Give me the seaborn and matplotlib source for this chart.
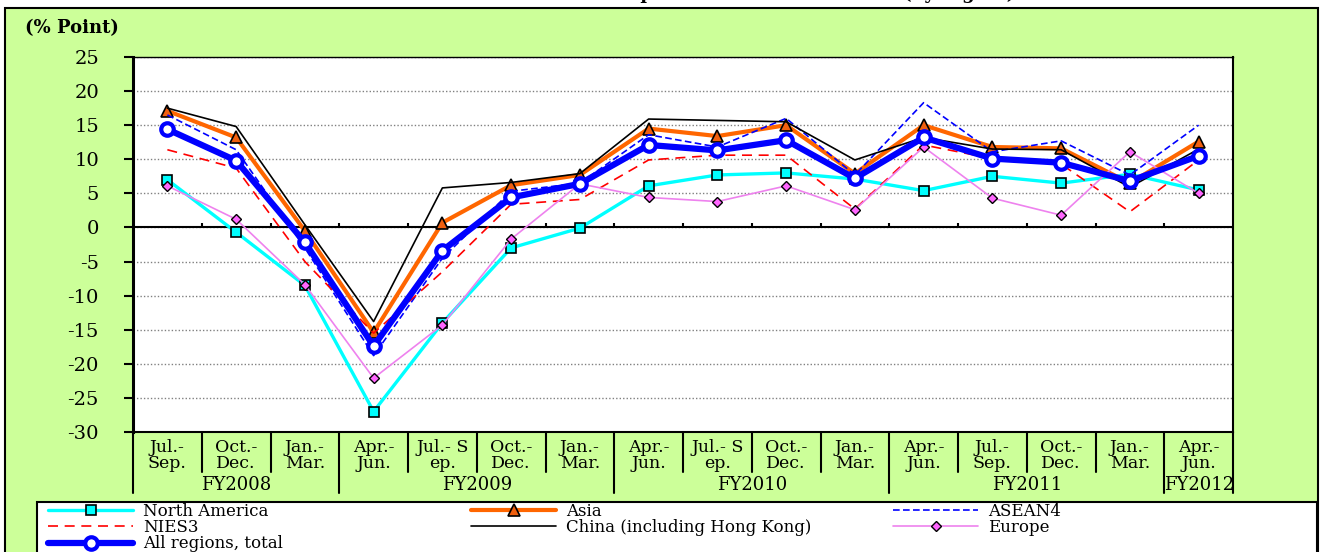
"""Export growth by region: quarterly contribution chart."""

import matplotlib

matplotlib.use("Agg")
import matplotlib.pyplot as plt
from matplotlib.patches import Rectangle
import seaborn as sns

# ---- data -----------------------------------------------------------------
quarters = ["Jul.-\nSep.", "Oct.-\nDec.", "Jan.-\nMar.", "Apr.-\nJun.",
            "Jul.- S\nep.", "Oct.-\nDec.", "Jan.-\nMar.", "Apr.-\nJun.",
            "Jul.- S\nep.", "Oct.-\nDec.", "Jan.-\nMar.", "Apr.-\nJun.",
            "Jul.-\nSep.", "Oct.-\nDec.", "Jan.-\nMar.", "Apr.-\nJun."]
fiscal_years = ["FY2008", "FY2009", "FY2010", "FY2011", "FY2012"]
fy_sizes = [3, 4, 4, 4, 1]

north_america = [7.0, -0.7, -8.5, -27.0, -14.0, -3.0, -0.1, 6.1, 7.7, 8.0, 7.1, 5.4, 7.5, 6.5, 7.8, 5.5]
asia = [17.1, 13.2, -0.5, -15.4, 0.7, 6.2, 7.7, 14.5, 13.4, 15.0, 7.9, 15.0, 11.8, 11.6, 6.5, 12.6]
asean4 = [16.5, 11.4, -3.0, -18.8, -4.5, 5.3, 6.5, 13.6, 11.8, 16.0, 7.7, 18.3, 11.1, 12.7, 7.7, 15.0]
nies3 = [11.4, 8.7, -5.0, -15.5, -6.5, 3.4, 4.1, 9.9, 10.6, 10.6, 2.7, 12.1, 10.1, 9.3, 2.3, 9.9]
china = [17.5, 14.8, 0.4, -13.8, 5.8, 6.6, 7.9, 15.9, 15.7, 15.5, 9.9, 13.2, 11.5, 11.4, 5.9, 11.5]
europe = [6.1, 1.2, -8.4, -22.1, -14.3, -1.7, 6.4, 4.4, 3.8, 6.1, 2.6, 11.8, 4.3, 1.8, 11.1, 5.0]
total = [14.4, 9.8, -2.2, -17.4, -3.4, 4.4, 6.4, 12.1, 11.3, 12.8, 7.2, 13.2, 10.1, 9.5, 6.8, 10.5]

series = [
    ("North America", north_america,
     dict(color="#00FFFF", lw=2.4, marker="s", ms=7, mfc="#00FFFF", mec="black", mew=1.2)),
    ("Asia", asia,
     dict(color="#FF6600", lw=3.0, marker="^", ms=8, mfc="#F06010", mec="black", mew=1.2)),
    ("ASEAN4", asean4, dict(color="#0000FF", lw=1.2, ls=(0, (4, 2)))),
    ("NIES3", nies3, dict(color="#FF0000", lw=1.2, ls=(0, (6, 4)))),
    ("China (including Hong Kong)", china, dict(color="black", lw=1.2)),
    ("Europe", europe,
     dict(color="#EE82EE", lw=1.2, marker="D", ms=5.5, mfc="#FF66FF", mec="black", mew=1.0)),
    ("All regions, total", total,
     dict(color="#0000FF", lw=4.5, marker="o", ms=9, mfc="white", mec="#0000FF", mew=3.0)),
]

W, H = 1322, 552
GREEN = "#CCFF99"
FONT = ["DejaVu Serif"]

sns.set_theme(style="white")
plt.rcParams["font.family"] = FONT
plt.rcParams["axes.unicode_minus"] = False
plt.rcParams["text.color"] = "black"
plt.rcParams["ytick.labelcolor"] = "black"

fig = plt.figure(figsize=(W / 100, H / 100), dpi=100)
fig.patch.set_facecolor("white")

# green chart panel and legend box (figure pixels)
fig.add_artist(Rectangle((5 / W, -0.05), 1313 / W, 1 - 8 / H + 0.05, transform=fig.transFigure,
                         facecolor=GREEN, edgecolor="black", lw=1.5, zorder=-10))
fig.add_artist(Rectangle((37 / W, -0.05), 1280 / W, 1 - 502 / H + 0.05, transform=fig.transFigure,
                         facecolor="white", edgecolor="black", lw=1.5, zorder=-5))

ax = fig.add_axes([133 / W, 1 - 432 / H, 1100 / W, 375 / H])
ax.set_facecolor("white")

x = list(range(len(quarters)))
for name, vals, style in series:
    sns.lineplot(x=x, y=vals, ax=ax, label=name, legend=False, errorbar=None, **style)

ax.set_xlim(-0.5, len(quarters) - 0.5)
ax.set_ylim(-30, 25)
ax.set_yticks(range(-30, 26, 5))
ax.set_xticks([])
ax.yaxis.grid(True, color="#808080", ls=(0, (1, 1.5)), lw=1.0)
ax.set_axisbelow(True)
ax.axhline(0, color="black", lw=1.5, zorder=1.5)
ax.tick_params(axis="y", direction="out", length=6.5, width=1.5, color="black",
               labelsize=14, pad=18, left=True, labelcolor="black")
for lab in ax.get_yticklabels():
    lab.set_family(FONT)
for side, lw in [("left", 2.2), ("right", 1.5), ("top", 1.0), ("bottom", 1.5)]:
    ax.spines[side].set_color("black")
    ax.spines[side].set_linewidth(lw)

# small ticks on the zero line between quarters
bounds = [i + 0.5 for i in x[:-1]]
ax.vlines(bounds, 0, 0.6, color="black", lw=1.5, zorder=1.6)

# category axis below the plot
tr = ax.get_xaxis_transform()
for i, q in enumerate(quarters):
    ax.text(i, -0.062, q, transform=tr, ha="center", va="center", fontsize=12.5,
            linespacing=0.95, clip_on=False, color="black")
edges = [-0.5]
for n in fy_sizes:
    edges.append(edges[-1] + n)
for b in [-0.5] + [i + 0.5 for i in x]:
    long_line = b in edges
    ax.plot([b, b], [0, -0.163 if long_line else -0.107], transform=tr, color="black",
            lw=1.5, clip_on=False)
for fy, a, b in zip(fiscal_years, edges[:-1], edges[1:]):
    ax.text((a + b) / 2, -0.142, fy, transform=tr, ha="center", va="center",
            fontsize=13, clip_on=False, color="black")

# text outside the plot (the title sits mostly above the top edge, as in the source)
fig.text(25 / W, 1 - 28 / H, "(% Point)", fontsize=13, fontweight="bold", va="center")
fig.text(816 / W, 1 + 1 / H, "Export Volume Growth Rate (by region)", fontsize=13,
         fontweight="bold", ha="center", va="baseline")

# legend, laid out row by row in three equal columns
handles, labels = ax.get_legend_handles_labels()
columns = [[0, 3, 6], [1, 4], [2, 5]]
col_x = [48, 471, 893]
for idx, cx in zip(columns, col_x):
    fig.legend([handles[i] for i in idx], [labels[i] for i in idx], loc="upper left",
               bbox_to_anchor=(cx / W, 1 - 503 / H), bbox_transform=fig.transFigure,
               frameon=False, fontsize=12, handlelength=5.1, handletextpad=0.6,
               borderpad=0, borderaxespad=0, labelspacing=-0.05, numpoints=1,
               labelcolor="black")

fig.savefig("out.png", dpi=100)
